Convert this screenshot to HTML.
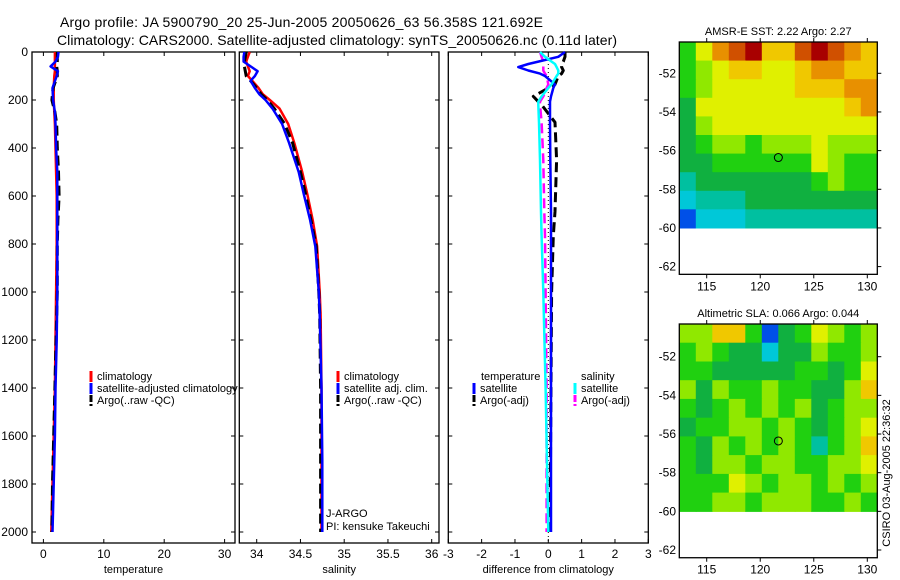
<!DOCTYPE html>
<html><head><meta charset="utf-8"><style>
html,body{margin:0;padding:0;background:#fff}
svg{display:block;font-family:"Liberation Sans",sans-serif}
</style></head><body>
<svg id="fig" width="900" height="580" viewBox="0 0 900 580" xmlns="http://www.w3.org/2000/svg">
<text x="60" y="27" font-size="14" textLength="483">Argo profile: JA 5900790_20 25-Jun-2005 20050626_63 56.358S 121.692E</text>
<text x="57" y="45" font-size="14" textLength="560">Climatology: CARS2000. Satellite-adjusted climatology: synTS_20050626.nc (0.11d later)</text>
<g id="layer"></g>
</svg>
<script>
// ---- data ----
const depthTicks=[0,200,400,600,800,1000,1200,1400,1600,1800,2000];
const tempTicks=[0,10,20,30];
const salTicks=[34,34.5,35,35.5,36];
const diffTicks=[-3,-2,-1,0,1,2,3];
const tDepth=[0,20,40,60,80,100,150,200,250,300,400,500,600,700,800,1000,1200,1400,1600,1800,2000];
const tempClim=[1.9,1.9,1.9,1.9,1.9,1.8,1.7,1.7,1.8,1.9,2.0,2.1,2.2,2.2,2.2,2.1,2.0,1.9,1.7,1.5,1.3];
const tempSat=[2.5,2.4,2.0,1.2,2.4,2.2,1.5,1.6,1.9,2.0,2.1,2.3,2.3,2.3,2.3,2.3,2.2,2.0,1.9,1.7,1.5];
const tempArgo=[2.3,2.3,2.3,2.2,2.3,2.3,1.6,1.4,1.9,2.2,2.3,2.5,2.6,2.4,2.3,2.3,2.1,1.9,1.7,1.5,1.4];
const sDepth=[0,20,40,60,80,100,120,150,176,200,235,300,379,500,594,700,809,1000,1096,1400,1700,2000];
const salClim=[33.92,33.90,33.88,33.90,33.92,33.90,33.95,34.02,34.07,34.15,34.26,34.36,34.43,34.52,34.58,34.64,34.69,34.72,34.73,34.74,34.74,34.74];
const salSat=[33.86,33.85,33.85,33.93,34.01,33.98,33.93,33.98,34.03,34.10,34.18,34.29,34.37,34.48,34.54,34.61,34.67,34.71,34.72,34.74,34.75,34.75];
const salArgo=[33.88,33.87,33.86,33.86,33.87,33.88,33.93,34.0,34.05,34.12,34.20,34.32,34.41,34.50,34.56,34.62,34.68,34.71,34.72,34.73,34.73,34.73];
const dDepth=[0,20,40,50,63,77,90,100,135,150,185,207,220,293,450,665,766,1000,1400,2000];
const dTempSat=[0.5,0.3,-0.3,-0.6,-0.9,-0.6,-0.25,-0.1,0.2,0.15,0.08,0.05,0.05,0.05,0.06,0.08,0.08,0.08,0.08,0.08];
const dSalSat=[-0.25,-0.1,0.1,0.2,0.25,0.3,0.3,0.25,0.1,0.0,-0.2,-0.3,-0.3,-0.28,-0.25,-0.22,-0.2,-0.15,-0.08,0.0];
const dSalArgo=[-0.25,-0.2,-0.15,-0.15,-0.15,-0.15,-0.1,-0.05,0.0,-0.05,-0.15,-0.25,-0.25,-0.2,-0.15,-0.12,-0.1,-0.08,-0.05,-0.05];
const dTempArgo=[0.5,0.5,0.45,0.4,0.4,0.45,0.4,0.3,0.2,0.0,-0.45,-0.3,-0.2,0.2,0.25,0.2,0.15,0.1,0.08,0.05];
const lonTicks=[115,120,125,130];
const latTicks=[-52,-54,-56,-58,-60,-62];
const sstGrid=[
[4,6,8,9,10,7,7,9,10,9,8,7],
[4,5,6,7,7,6,6,7,8,8,7,7],
[4,5,6,6,6,6,6,7,7,7,8,8],
[3,6,6,6,6,6,6,6,6,6,7,8],
[3,5,6,6,6,6,6,6,6,6,6,6],
[3,4,5,5,4,5,5,5,6,5,5,5],
[3,3,4,4,4,4,4,4,6,5,4,4],
[2,3,3,3,3,3,3,3,4,5,4,4],
[1,2,2,2,3,3,3,3,3,3,3,3],
[0,1,1,1,2,2,2,2,2,2,2,2]];
const slaGrid=[
[5,5,7,7,4,0,3,4,6,5,4,5],
[4,5,4,3,3,1,3,3,5,4,4,5],
[4,4,3,3,3,3,3,4,4,3,4,6],
[5,3,5,4,4,5,4,4,3,3,5,7],
[4,3,4,5,4,5,4,5,3,4,5,5],
[3,4,4,5,5,4,5,4,3,4,5,6],
[4,3,5,4,5,4,5,4,2,4,5,7],
[4,3,5,5,4,5,5,4,4,5,5,6],
[4,4,4,6,5,4,5,5,4,5,4,5],
[4,4,5,5,4,5,5,5,4,4,5,4]];
const argoLon=121.692, argoLat=-56.358;

const palette=['#0050e8','#00c8d8','#00c0a0','#10b040','#20d010','#90e800','#e0f000','#f0c800','#e89000','#d05000','#a80000'];
const NS='http://www.w3.org/2000/svg';
const layer=document.getElementById('layer');
function mk(tag,attrs,parent){const e=document.createElementNS(NS,tag);for(const k in attrs)e.setAttribute(k,attrs[k]);(parent||layer).appendChild(e);return e;}
function lin(d0,d1,r0,r1){return v=>r0+(v-d0)*(r1-r0)/(d1-d0);}

const yD=lin(0,2000,52,532);
const Y0=52,Y1=543;
const panels=[
 {name:'temperature',x0:32,x1:235,sx:lin(0,30,43.4,224.6),ticks:tempTicks,lab:'temperature'},
 {name:'salinity',x0:239.3,x1:439,sx:lin(34,36,256.7,431.7),ticks:salTicks,lab:'salinity'},
 {name:'difference',x0:448.3,x1:648.3,sx:lin(-3,3,448.3,648.3),ticks:diffTicks,lab:'difference from climatology'}];

panels.forEach((p,pi)=>{
 const g=mk('g',{});
 
 
 const r=mk('rect',{x:p.x0,y:Y0,width:p.x1-p.x0,height:Y1-Y0,fill:'none',stroke:'#000','stroke-width':1.3},g);
 
 
 p.ticks.forEach(t=>{
  const x=p.sx(t);
  mk('line',{x1:x,x2:x,y1:Y1,y2:Y1-4,stroke:'#000'},g);
  mk('line',{x1:x,x2:x,y1:Y0,y2:Y0+4,stroke:'#000'},g);
  const tx=mk('text',{x:x,y:558,'font-size':12,'text-anchor':'middle'},g);
  tx.textContent=String(t);
  
  
 });
 depthTicks.forEach(d=>{
  const y=yD(d);
  mk('line',{x1:p.x0,x2:p.x0+4,y1:y,y2:y,stroke:'#000'},g);
  mk('line',{x1:p.x1,x2:p.x1-4,y1:y,y2:y,stroke:'#000'},g);
  if(pi===0){
   const tx=mk('text',{x:28,y:y+4,'font-size':12,'text-anchor':'end'},g);
   tx.textContent=String(d);
   
   
  }
 });
 const xl=mk('text',{x:(p.x0+p.x1)/2,y:573,'font-size':11,'text-anchor':'middle'},g);
 xl.textContent=p.lab;
 
 
});

function series(p,vals,depths,color,w,dash,name){
 const pts=vals.map((v,i)=>p.sx(v).toFixed(1)+','+yD(depths[i]).toFixed(1)).join(' ');
 const a={points:pts,fill:'none',stroke:color,'stroke-width':w,'stroke-linejoin':'round'};
 if(dash)a['stroke-dasharray']=dash;
 const e=mk('polyline',a);
 
 
}
const P=panels;
series(P[0],tempClim,tDepth,'#ff0000',2.5,null,'temp-climatology-line');
series(P[0],tempArgo,tDepth,'#000',3,'10 5','temp-argo-line');
series(P[0],tempSat,tDepth,'#0000ff',2.5,null,'temp-satellite-line');
series(P[1],salClim,sDepth,'#ff0000',2.5,null,'sal-climatology-line');
series(P[1],salArgo,sDepth,'#000',3,'10 5','sal-argo-line');
series(P[1],salSat,sDepth,'#0000ff',2.5,null,'sal-satellite-line');
const zl=mk('line',{x1:P[2].sx(0),x2:P[2].sx(0),y1:Y0,y2:Y1,stroke:'#000','stroke-width':1,'stroke-dasharray':'1 3'});


series(P[2],dTempArgo,dDepth,'#000',3,'10 5','diff-temp-argo-line');
series(P[2],dSalArgo,dDepth,'#ff00ff',2.5,'10 5','diff-sal-argo-line');
series(P[2],dTempSat,dDepth,'#0000ff',2.5,null,'diff-temp-satellite-line');
series(P[2],dSalSat,dDepth,'#00ffff',2.5,null,'diff-sal-satellite-line');

function legend(x,y,items){
 items.forEach((it,i)=>{
  const yy=y+i*12;
  const m=mk('line',{x1:x,x2:x,y1:yy-9,y2:yy+2,stroke:it[1],'stroke-width':3,'stroke-dasharray':it[2]?'7 2':'none'});
  
  
  const t=mk('text',{x:x+6,y:yy,'font-size':11});
  t.textContent=it[0];
  
  
 });
}
legend(91,380,[['climatology','#ff0000'],['satellite-adjusted climatology','#0000ff'],['Argo(..raw -QC)','#000',1]]);
legend(338,380,[['climatology','#ff0000'],['satellite adj. clim.','#0000ff'],['Argo(..raw -QC)','#000',1]]);
legend(474,380,[['',"none"],['satellite','#0000ff'],['Argo(-adj)','#000',1]]);
legend(575,380,[['',"none"],['satellite','#00ffff'],['Argo(-adj)','#ff00ff',1]]);
[['temperature',481],['salinity',581]].forEach(a=>{
 const t=mk('text',{x:a[1],y:380,'font-size':11});t.textContent=a[0];
 
 
});
[['J-ARGO',517],['PI: kensuke Takeuchi',530]].forEach(a=>{
 const t=mk('text',{x:326,y:a[1],'font-size':11});t.textContent=a[0];
 
 
});

// ---- maps ----
function map(top,lat0y,title,grid,name){
 const X0=679.3,X1=877.3;
 const sx=lin(115,130,706.7,867.3);
 const sy=lin(-52,-62,lat0y,lat0y+193.3);
 const topLat=-52+(lat0y-top)/19.33;
 const bottom=sy(-62.4);
 const g=mk('g',{});
 
 
 const lonL=112.44,lonR=130.93,latB=-60;
 const nr=grid.length,nc=grid[0].length;
 grid.forEach((row,ri)=>row.forEach((v,ci)=>{
  const la=topLat+(latB-topLat)*ri/nr, lb=topLat+(latB-topLat)*(ri+1)/nr;
  const lo=lonL+(lonR-lonL)*ci/nc, lo2=lonL+(lonR-lonL)*(ci+1)/nc;
  const c=mk('rect',{x:sx(lo).toFixed(1),y:sy(la).toFixed(1),width:(sx(lo2)-sx(lo)+0.6).toFixed(1),height:(sy(lb)-sy(la)+0.6).toFixed(1),fill:palette[v]},g);
  
  
 }));
 const b=mk('rect',{x:X0,y:top,width:X1-X0,height:bottom-top,fill:'none',stroke:'#000','stroke-width':1.3},g);
 
 
 lonTicks.forEach(l=>{
  const x=sx(l);
  mk('line',{x1:x,x2:x,y1:top,y2:top-4,stroke:'#000'},g);
  mk('line',{x1:x,x2:x,y1:bottom,y2:bottom+4,stroke:'#000'},g);
  const t=mk('text',{x:x,y:bottom+16,'font-size':12,'text-anchor':'middle'},g);t.textContent=String(l);
  
  
 });
 latTicks.forEach(l=>{
  const y=sy(l);
  mk('line',{x1:X1,x2:X1+4,y1:y,y2:y,stroke:'#000'},g);
  const t=mk('text',{x:676,y:y+4,'font-size':12,'text-anchor':'end'},g);t.textContent=String(l);
  
  
 });
 const tt=mk('text',{x:(X0+X1)/2,y:top-7,'font-size':11,'text-anchor':'middle'},g);tt.textContent=title;
 
 
 const ci=mk('circle',{cx:sx(argoLon),cy:sy(argoLat),r:4,fill:'none',stroke:'#000','stroke-width':1},g);
 
 
}
map(42,73.3,'AMSR-E SST: 2.22 Argo: 2.27',sstGrid,'sst-map');
map(324,356.7,'Altimetric SLA: 0.066 Argo: 0.044',slaGrid,'sla-map');
const cr=mk('text',{x:0,y:0,'font-size':11,'text-anchor':'middle',transform:'translate(890,473) rotate(-90)'});
cr.textContent='CSIRO 03-Aug-2005 22:36:32';


</script>
</body></html>
